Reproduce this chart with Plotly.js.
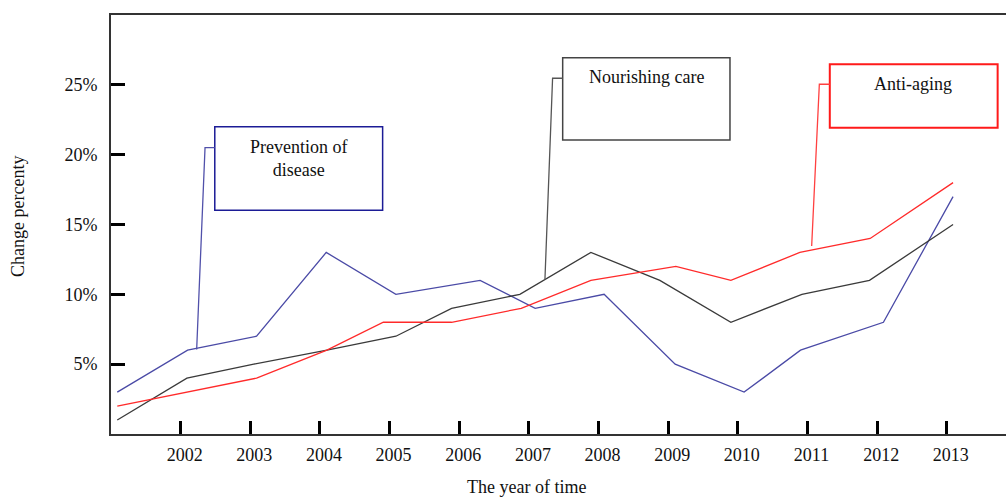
<!DOCTYPE html>
<html>
<head>
<meta charset="utf-8">
<script src="https://cdn.plot.ly/plotly-3.0.1.min.js"></script>
<style>html,body{margin:0;padding:0;background:#fff;}#chart{width:1006px;height:498px;}</style>
</head>
<body>
<div id="chart"></div>
<script>
// Tick labels
const yearTicks = [2002, 2003, 2004, 2005, 2006, 2007, 2008, 2009, 2010, 2011, 2012, 2013];
const yearLabels = ["2002","2003","2004","2005","2006","2007","2008","2009","2010","2011","2012","2013"];
const pctTicks = [5, 10, 15, 20, 25, 30];
const pctLabels = ["5%", "10%", "15%", "20%", "25%", ""];

// Series: Prevention of disease (blue)
const preventionX = [2001.09, 2002.10, 2003.09, 2004.09, 2005.09, 2006.30, 2007.09, 2008.08, 2009.10, 2010.09, 2010.90, 2012.09, 2013.09];
const preventionY = [3, 6, 7, 13, 10, 11, 9, 10, 5, 3, 6, 8, 17];

// Series: Nourishing care (black)
const nourishX = [2001.09, 2002.09, 2003.05, 2004.10, 2005.09, 2005.89, 2006.87, 2007.89, 2008.88, 2009.90, 2010.92, 2011.89, 2013.09];
const nourishY = [1, 4, 5, 6, 7, 9, 10, 13, 11, 8, 10, 11, 15];

// Series: Anti-aging (red)
const antiX = [2001.09, 2002.09, 2003.09, 2004.10, 2004.91, 2005.89, 2006.89, 2007.89, 2009.11, 2009.90, 2010.89, 2011.90, 2013.09];
const antiY = [2, 3, 4, 6, 8, 8, 9, 11, 12, 11, 13, 14, 18];

const serif = '"Liberation Serif", "Times New Roman", serif';

const traces = [
  {x: preventionX, y: preventionY, mode: 'lines', line: {color: '#4a4aa6', width: 1.3}, name: 'Prevention of disease'},
  {x: nourishX, y: nourishY, mode: 'lines', line: {color: '#3a3a3a', width: 1.3}, name: 'Nourishing care'},
  {x: antiX, y: antiY, mode: 'lines', line: {color: '#ff2a2a', width: 1.3}, name: 'Anti-aging'}
];

// callout boxes (label boxes, with leader lines to the series)
const shapes = [
  {type: 'rect', xref: 'x', yref: 'y', x0: 2002.49, x1: 2004.90, y0: 16.02, y1: 22.0, line: {color: '#1c1c96', width: 1.5}, fillcolor: 'rgba(0,0,0,0)'},
  {type: 'path', xref: 'x', yref: 'y', path: 'M 2002.49 20.5 L 2002.35 20.5 L 2002.23 6.05', line: {color: '#5050aa', width: 1.3}},
  {type: 'rect', xref: 'x', yref: 'y', x0: 2007.485, x1: 2009.887, y0: 21.05, y1: 26.94, line: {color: '#444444', width: 1.5}, fillcolor: 'rgba(0,0,0,0)'},
  {type: 'path', xref: 'x', yref: 'y', path: 'M 2007.485 25.47 L 2007.34 25.47 L 2007.23 11.03', line: {color: '#555555', width: 1.3}},
  {type: 'rect', xref: 'x', yref: 'y', x0: 2011.32, x1: 2013.73, y0: 21.93, y1: 26.47, line: {color: '#ff1a1a', width: 2}, fillcolor: 'rgba(0,0,0,0)'},
  {type: 'path', xref: 'x', yref: 'y', path: 'M 2011.32 25.04 L 2011.17 25.04 L 2011.06 13.46', line: {color: '#ff4040', width: 1.3}}
];

const annotations = [
  {xref: 'x', yref: 'y', x: 2003.685, y: 19.75, text: 'Prevention of<br>disease', showarrow: false, font: {family: serif, size: 18, color: '#111'}, align: 'center'},
  {xref: 'x', yref: 'y', x: 2008.69, y: 25.54, text: 'Nourishing care', showarrow: false, font: {family: serif, size: 18, color: '#111'}},
  {xref: 'x', yref: 'y', x: 2012.52, y: 25.04, text: 'Anti-aging', showarrow: false, font: {family: serif, size: 18, color: '#111'}},
  // axis titles
  {xref: 'paper', yref: 'paper', x: 0.4648, y: -0.127, xanchor: 'center', yanchor: 'middle', text: 'The year of time', showarrow: false, font: {family: serif, size: 18, color: '#111'}},
  {xref: 'paper', yref: 'paper', x: -0.1039, y: 0.5179, xanchor: 'center', yanchor: 'middle', textangle: -90, text: 'Change percenty', showarrow: false, font: {family: serif, size: 18, color: '#111'}}
];

const layout = {
  width: 1006, height: 498,
  margin: {l: 111, r: 0, t: 15, b: 64},
  paper_bgcolor: '#ffffff', plot_bgcolor: '#ffffff',
  showlegend: false,
  font: {family: serif, size: 18, color: '#111'},
  xaxis: {
    range: [2001, 2013.85], tickvals: yearTicks, ticktext: yearLabels,
    ticks: 'inside', ticklen: 13, tickwidth: 3, tickcolor: '#000',
    showline: true, linecolor: '#333', linewidth: 2, mirror: true,
    showgrid: false, zeroline: false, automargin: false,
    ticklabelshift: 4, ticklabelstandoff: 3,
    tickfont: {family: serif, size: 18, color: '#111'}
  },
  yaxis: {
    range: [0, 30], tickvals: pctTicks, ticktext: pctLabels,
    ticks: 'inside', ticklen: 14, tickwidth: 3, tickcolor: '#000',
    showline: true, linecolor: '#333', linewidth: 2,
    showgrid: false, zeroline: false, automargin: false,
    ticklabelstandoff: 8,
    tickfont: {family: serif, size: 18, color: '#111'}
  },
  shapes: shapes,
  annotations: annotations
};

Plotly.newPlot('chart', traces, layout, {displayModeBar: false, staticPlot: true});
</script>
</body>
</html>
